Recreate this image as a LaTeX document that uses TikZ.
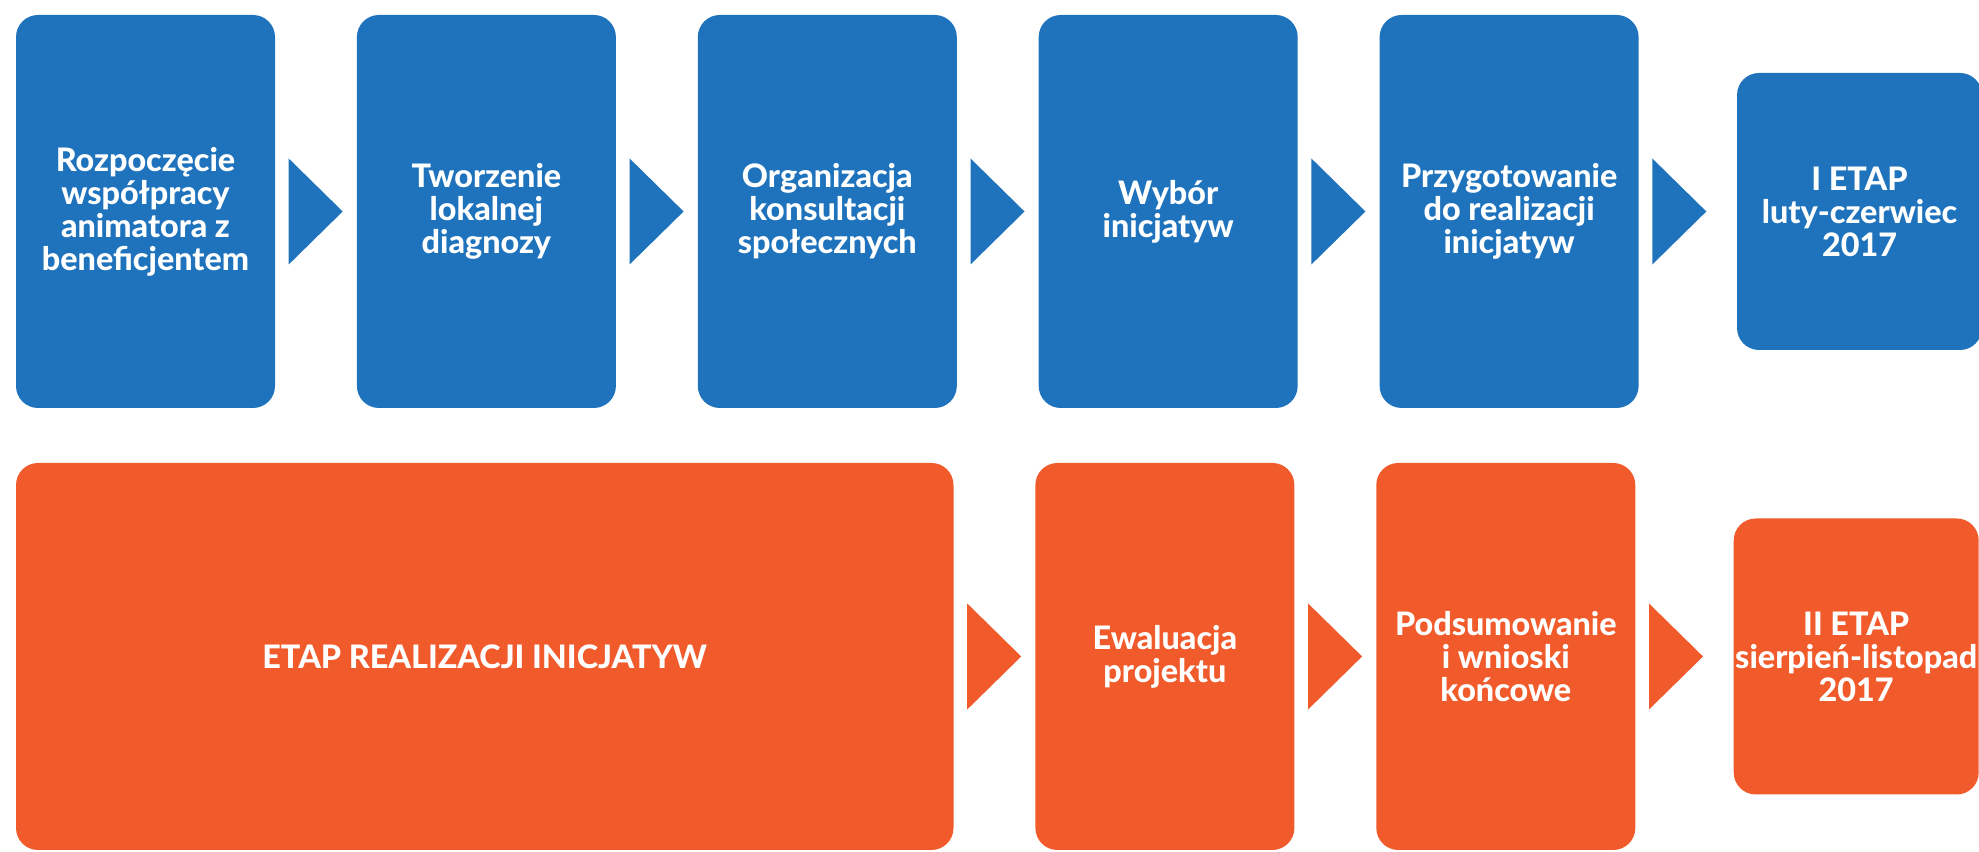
\documentclass[tikz,border=0pt]{standalone}
\usepackage{fontspec}
\setmainfont{Lato}[BoldFont = {Lato Heavy}]
\usetikzlibrary{calc, positioning}

\definecolor{stepblue}{RGB}{30,115,188}
\definecolor{steporange}{RGB}{241,90,42}

\tikzset{
    stage/.style = {rounded corners = 0.22cm, inner sep = 0pt, align = center,
        text = white, font = \fontsize{9.2}{9.4}\selectfont\bfseries,
        minimum width = 2.59cm},
    bluestage/.style = {stage, fill = stepblue, minimum height = 3.93cm},
    orangestage/.style = {stage, fill = steporange, minimum height = 3.87cm},
    node distance = 0.805cm
}

\begin{document}
\begin{tikzpicture}
    \useasboundingbox (0, 0) rectangle (19.79, 8.52);

    % I etap
    \node[bluestage] (b1) at (1.455, 6.405) {Rozpoczęcie\\współpracy\\animatora z\\beneficjentem};
    \node[bluestage, right = of b1] (b2) {Tworzenie\\lokalnej\\diagnozy};
    \node[bluestage, right = of b2] (b3) {Organizacja\\konsultacji\\społecznych};
    \node[bluestage, right = of b3] (b4) {Wybór\\inicjatyw};
    \node[bluestage, right = of b4] (b5) {Przygotowanie\\do realizacji\\inicjatyw};
    \node[bluestage, right = 0.97cm of b5, minimum width = 2.45cm, minimum height = 2.77cm] (b6) {I ETAP\\luty-czerwiec\\2017};

    % II etap
    \node[orangestage, minimum width = 9.375cm] (o1) at (4.8475, 1.955) {ETAP REALIZACJI INICJATYW};
    \node[orangestage, right = of o1] (o2) {Ewaluacja\\projektu};
    \node[orangestage, right = of o2] (o3) {Podsumowanie\\i wnioski\\końcowe};
    \node[orangestage, right = 0.97cm of o3, minimum width = 2.45cm, minimum height = 2.76cm] (o4) {II ETAP\\sierpień-listopad\\2017};

    \foreach \a/\col in {b1/stepblue, b2/stepblue, b3/stepblue, b4/stepblue, b5/stepblue, o1/steporange, o2/steporange, o3/steporange} {
        \fill[\col] ($(\a.east) + (0.13, 0.53)$) -- ++(0.54, -0.53) -- ++(-0.54, -0.53) -- cycle;
    }
\end{tikzpicture}
\end{document}
